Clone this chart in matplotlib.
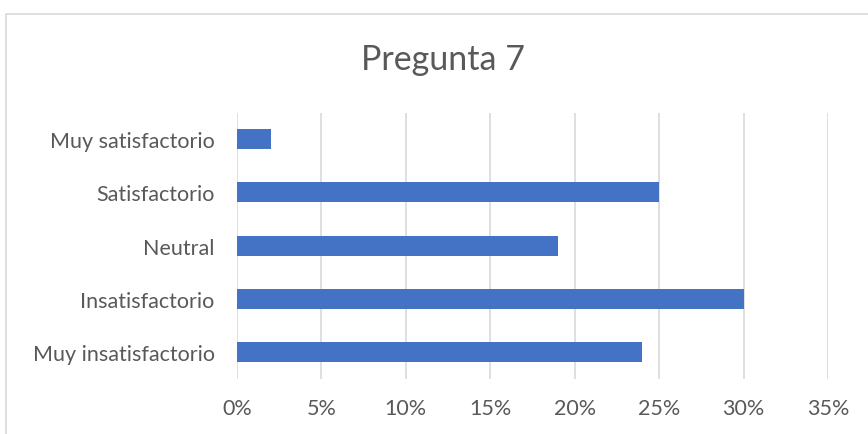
import matplotlib.pyplot as plt
from matplotlib.patches import Rectangle
from matplotlib.ticker import PercentFormatter

# Survey results, question 7
categories = ["Muy insatisfactorio", "Insatisfactorio", "Neutral",
              "Satisfactorio", "Muy satisfactorio"]
values = [24, 30, 19, 25, 2]
x_ticks = [0, 5, 10, 15, 20, 25, 30, 35]
title = "Pregunta 7"

bar_color = "#4472C4"
text_color = "#595959"
grid_color = "#D9D9D9"

plt.rcParams["font.family"] = ["Lato", "DejaVu Sans"]

fig = plt.figure(figsize=(8.68, 4.35), dpi=100)
ax = fig.add_axes([0.273, 0.1264, 0.681, 0.6126])

# chart frame running off the right and bottom edges
fig.patches.append(Rectangle((6 / 868, -0.1), 1.2, 1.1 - 15 / 435,
                             transform=fig.transFigure, fill=False,
                             edgecolor=grid_color, linewidth=1.2))

y = range(len(categories))
ax.barh(y, values, height=0.375, color=bar_color, zorder=3)

ax.set_xlim(0, 35)
ax.set_ylim(-0.5, len(categories) - 0.5)
ax.set_xticks(x_ticks)
ax.xaxis.set_major_formatter(PercentFormatter(decimals=0))
ax.set_yticks(list(y))
ax.set_yticklabels(categories)

ax.grid(axis="x", color=grid_color, linewidth=1.2, zorder=0)
for side in ["top", "right", "bottom", "left"]:
    ax.spines[side].set_visible(False)
ax.tick_params(axis="both", length=0, labelsize=15.5, colors=text_color)
ax.tick_params(axis="y", pad=16)
ax.tick_params(axis="x", pad=14)

fig.text(0.51, 0.862, title, ha="center", va="center",
         fontsize=24.5, color=text_color)

fig.savefig("out.png", dpi=100)
